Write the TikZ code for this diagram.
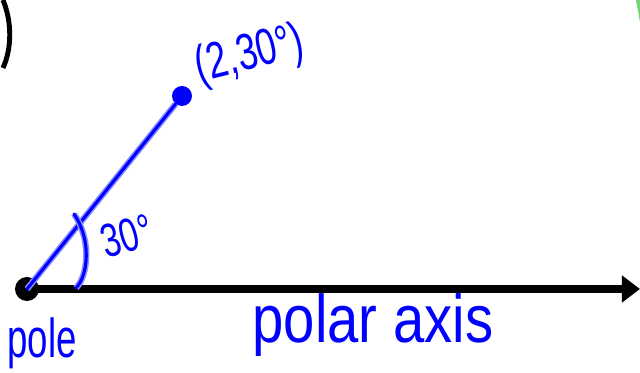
\documentclass[tikz,border=0pt]{standalone}
\usepackage{fontspec}
\setmainfont{Liberation Sans}
\usepackage{xcolor}
\usepackage{tikz}
\usetikzlibrary{arrows.meta, positioning}

\begin{document}
\begin{tikzpicture}[
x=0.025cm, y=-0.025cm,
ink/.style={blue, line width=2.2pt, line cap=round, preaction={draw, blue!45, line width=4.4pt}},
axisline/.style={-{Triangle[length=0.45cm, width=0.65cm]}, line width=5pt},
dot/.style={circle, fill, inner sep=0pt, minimum size=#1},
handtext/.style={text=blue, inner sep=0pt, transform shape}
]
\useasboundingbox (0,0) rectangle (640,373);

% leftover strokes at the edges
\draw[line width=3.5pt] (3,0) .. controls (12,22) and (12,48) .. (3,68);
\fill[green!70!black!55] (636,0) -- (640,0) -- (640,22) -- cycle;

\node[dot=0.6cm] (pole) at (27,289) {};
\coordinate (axisend) at (640,289);
\draw[axisline] (pole.center) -- (axisend);

\node[dot=0.5cm, blue] (pt) at (182,96) {};
\draw[ink] (pole.center) -- (pt);

% angle mark
\coordinate (arcstart) at (74,214);
\coordinate (arcend) at (76,288);
\draw[ink] (arcstart) .. controls (92,240) and (88,276) .. (arcend);

\node[handtext, font=\fontsize{26}{26}\selectfont, rotate=14, yscale=1.4] (ptlabel) at (250,56) {(2,30°)};
\node[handtext, font=\fontsize{24}{24}\selectfont, rotate=16, yscale=1.4] (anglabel) at (127,236) {30°};
\node[handtext, font=\fontsize{26}{26}\selectfont, yscale=1.5] (polelabel) at (42,343) {pole};
\node[handtext, font=\fontsize{40}{40}\selectfont, yscale=1.2] (axislabel) at (373,325) {polar axis};

\end{tikzpicture}
\end{document}
